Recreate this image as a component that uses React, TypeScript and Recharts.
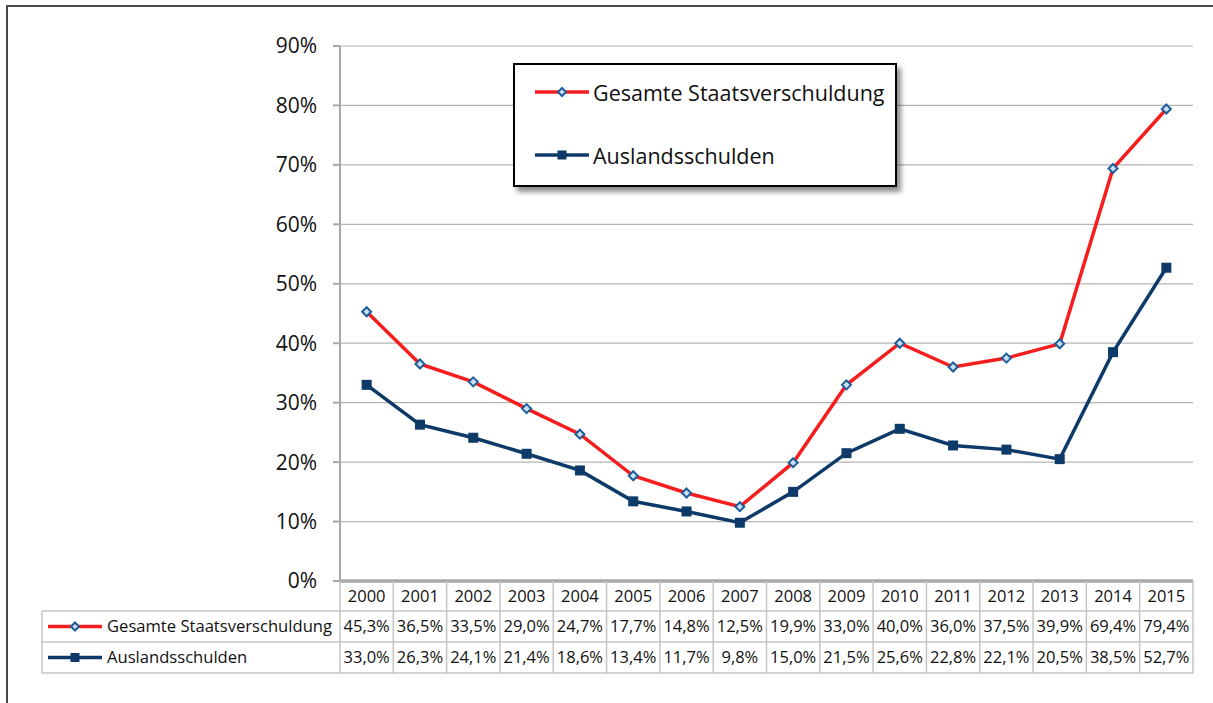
import React from "react";
import { LineChart, Line, XAxis, YAxis, CartesianGrid, Legend } from "recharts";

const YEARS = ["2000","2001","2002","2003","2004","2005","2006","2007","2008","2009","2010","2011","2012","2013","2014","2015"];
const GESAMT = [45.3, 36.5, 33.5, 29.0, 24.7, 17.7, 14.8, 12.5, 19.9, 33.0, 40.0, 36.0, 37.5, 39.9, 69.4, 79.4];
const AUSLAND = [33.0, 26.3, 24.1, 21.4, 18.6, 13.4, 11.7, 9.8, 15.0, 21.5, 25.6, 22.8, 22.1, 20.5, 38.5, 52.7];
const Y_TICKS = [0, 10, 20, 30, 40, 50, 60, 70, 80, 90];
const SERIES_NAMES = ["Gesamte Staatsverschuldung", "Auslandsschulden"];

const data = YEARS.map((year, i) => ({ year, gesamt: GESAMT[i], ausland: AUSLAND[i] }));

const RED = "#f51d1d";
const NAVY = "#0d3a68";
const DIAMOND_STROKE = "#1d5d9b";
const DIAMOND_FILL = "#cde0f2";
const GRID = "#b4b4b4";
const AXIS = "#a8a8a8";
const FONT = "'Open Sans', 'Noto Sans', sans-serif";

const W = 1213;
const H = 703;
const M_LEFT = 0;
const Y_AXIS_W = 340;
const M_RIGHT = 20;
const PLOT_W = W - M_LEFT - Y_AXIS_W - M_RIGHT;
const COL = PLOT_W / YEARS.length;
const TABLE_LEFT = 42;

const fmt = (v: number) => v.toFixed(1).replace(".", ",") + "%";

const Diamond = ({ cx, cy, r = 4.5 }: any) => (
  <polygon
    points={`${cx},${cy - r} ${cx + r},${cy} ${cx},${cy + r} ${cx - r},${cy}`}
    fill={DIAMOND_FILL}
    stroke={DIAMOND_STROKE}
    strokeWidth={2}
  />
);
const Square = ({ cx, cy, s = 10 }: any) => (
  <rect x={cx - s / 2} y={cy - s / 2} width={s} height={s} fill={NAVY} />
);

const RedDot = (p: any) => <Diamond key={`d${p.index}`} cx={p.cx} cy={p.cy} />;
const NavyDot = (p: any) => <Square key={`s${p.index}`} cx={p.cx} cy={p.cy} />;

const LegendKey = ({ x, y, kind }: any) => (
  <g>
    <line x1={x} x2={x + 54} y1={y} y2={y} stroke={kind === 0 ? RED : NAVY} strokeWidth={3.5} />
    {kind === 0 ? <Diamond cx={x + 27} cy={y} r={4} /> : <Square cx={x + 27} cy={y} s={9} />}
  </g>
);

const TableTick = (props: any) => {
  const { x, y, payload, index } = props;
  const left = x - COL / 2;
  const right = x + COL / 2;
  const r1 = y + 30;
  const r2 = y + 61;
  const r3 = y + 92;
  const lc = "#c4c4c4";
  return (
    <g>
      <line x1={left} x2={left} y1={y} y2={r3} stroke={lc} strokeWidth={1.5} />
      {index === YEARS.length - 1 && (
        <line x1={right} x2={right} y1={y} y2={r3} stroke={lc} strokeWidth={1.5} />
      )}
      {index === 0 && (
        <g>
          <line x1={TABLE_LEFT} x2={left + PLOT_W} y1={r1} y2={r1} stroke={lc} strokeWidth={1.5} />
          <line x1={TABLE_LEFT} x2={left + PLOT_W} y1={r2} y2={r2} stroke={lc} strokeWidth={1.5} />
          <line x1={TABLE_LEFT} x2={left + PLOT_W} y1={r3} y2={r3} stroke={lc} strokeWidth={1.5} />
          <line x1={TABLE_LEFT} x2={TABLE_LEFT} y1={r1} y2={r3} stroke={lc} strokeWidth={1.5} />
          <LegendKey x={TABLE_LEFT + 6} y={(r1 + r2) / 2} kind={0} />
          <LegendKey x={TABLE_LEFT + 6} y={(r2 + r3) / 2} kind={1} />
          <text x={TABLE_LEFT + 65} y={(r1 + r2) / 2} dy="0.36em" fontSize={16.6} fill="#111" fontFamily={FONT}>
            {SERIES_NAMES[0]}
          </text>
          <text x={TABLE_LEFT + 65} y={(r2 + r3) / 2} dy="0.36em" fontSize={16.6} fill="#111" fontFamily={FONT}>
            {SERIES_NAMES[1]}
          </text>
        </g>
      )}
      <text x={x} y={(y + r1) / 2} dy="0.36em" textAnchor="middle" fontSize={16.5} fill="#111" fontFamily={FONT}>
        {payload.value}
      </text>
      <text x={x} y={(r1 + r2) / 2} dy="0.36em" textAnchor="middle" fontSize={16.5} fill="#111" fontFamily={FONT}>
        {fmt(GESAMT[index])}
      </text>
      <text x={x} y={(r2 + r3) / 2} dy="0.36em" textAnchor="middle" fontSize={16.5} fill="#111" fontFamily={FONT}>
        {fmt(AUSLAND[index])}
      </text>
    </g>
  );
};

const LegendBox = () => (
  <div
    style={{
      width: 380,
      height: 120,
      border: "2px solid #000",
      background: "#fff",
      boxShadow: "4px 5px 5px rgba(0,0,0,0.45)",
      position: "relative",
      fontFamily: FONT,
    }}
  >
    {SERIES_NAMES.map((name, k) => (
      <div
        key={name}
        style={{ position: "absolute", left: 19, top: k === 0 ? 12 : 75, height: 30, display: "flex", alignItems: "center" }}
      >
        <svg width={56} height={16} style={{ display: "block" }}>
          <LegendKey x={1} y={8} kind={k} />
        </svg>
        <span style={{ fontSize: 21.5, color: "#111", marginLeft: 3, whiteSpace: "nowrap" }}>{name}</span>
      </div>
    ))}
  </div>
);

export default function App() {
  return (
    <div style={{ position: "absolute", left: 0, top: 0, width: W, height: H, background: "#fff", overflow: "hidden" }}>
      <div
        style={{
          position: "absolute",
          left: 6,
          top: 5,
          width: 1400,
          height: 900,
          borderLeft: "2px solid #4a4a4a",
          borderTop: "2px solid #4a4a4a",
        }}
      />
      <div style={{ position: "absolute", left: 0, top: 0 }}>
        <LineChart
          width={W}
          height={H}
          data={data}
          margin={{ top: 46, right: M_RIGHT, bottom: 0, left: M_LEFT }}
          style={{ fontFamily: FONT }}
        >
          <CartesianGrid vertical={false} stroke={GRID} strokeWidth={1.2} />
          <XAxis
            dataKey="year"
            height={122}
            interval={0}
            padding={{ left: COL / 2, right: COL / 2 }}
            tickLine={false}
            tickSize={0}
            tickMargin={0}
            axisLine={{ stroke: AXIS, strokeWidth: 3.5 }}
            tick={<TableTick />}
          />
          <YAxis
            width={Y_AXIS_W}
            domain={[0, 90]}
            ticks={Y_TICKS}
            interval={0}
            tickFormatter={(v: number) => `${v}%`}
            tick={{ fontSize: 21, fill: "#111", fontFamily: FONT }}
            tickLine={{ stroke: AXIS, strokeWidth: 2 }}
            tickSize={7}
            tickMargin={16}
            axisLine={{ stroke: AXIS, strokeWidth: 2 }}
          />
          <Legend
            layout="vertical"
            align="center"
            verticalAlign="middle"
            wrapperStyle={{ left: 513, top: 63, width: 384, height: 124 }}
            content={() => <LegendBox />}
          />
          <Line
            type="linear"
            dataKey="ausland"
            name={SERIES_NAMES[1]}
            stroke={NAVY}
            strokeWidth={3.5}
            dot={NavyDot}
            isAnimationActive={false}
          />
          <Line
            type="linear"
            dataKey="gesamt"
            name={SERIES_NAMES[0]}
            stroke={RED}
            strokeWidth={3.5}
            dot={RedDot}
            isAnimationActive={false}
          />
        </LineChart>
      </div>
    </div>
  );
}
